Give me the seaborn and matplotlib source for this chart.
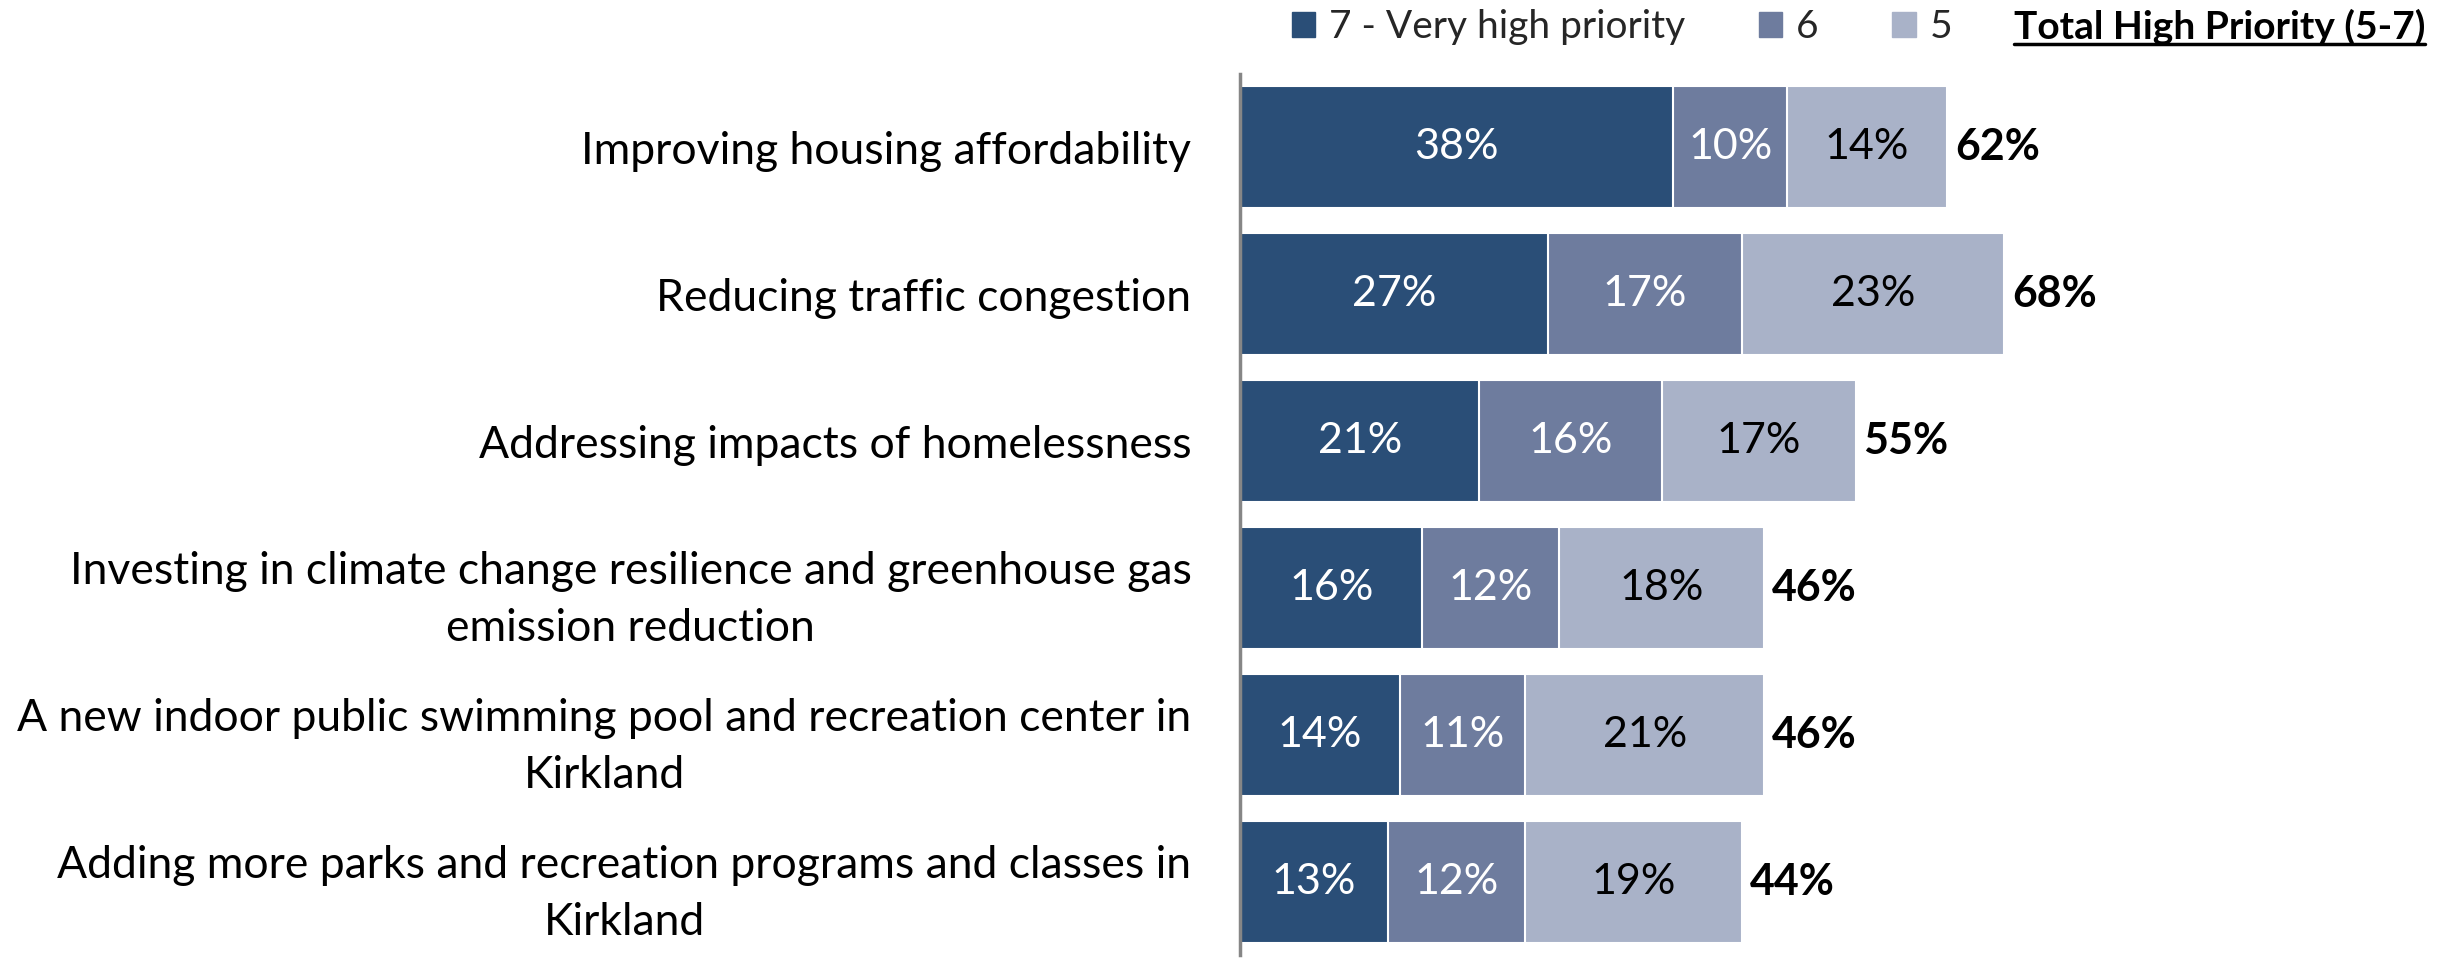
import matplotlib
matplotlib.use("Agg")
import matplotlib.pyplot as plt
import seaborn as sns
import pandas as pd
import numpy as np
from matplotlib.patches import Patch
from matplotlib.lines import Line2D

categories = [
    "Improving housing affordability",
    "Reducing traffic congestion",
    "Addressing impacts of homelessness",
    "Investing in climate change resilience and greenhouse gas\nemission reduction",
    "A new indoor public swimming pool and recreation center in\nKirkland",
    "Adding more parks and recreation programs and classes in\nKirkland",
]
v7 = [38, 27, 21, 16, 14, 13]
v6 = [10, 17, 16, 12, 11, 12]
v5 = [14, 23, 17, 18, 21, 19]
totals = [62, 68, 55, 46, 46, 44]
series_names = ["7 - Very high priority", "6", "5"]
colors = ["#2A4E77", "#6E7C9E", "#A9B2C8"]
total_title = "Total High Priority (5-7)"

sns.set_theme(style="white")
FONT = "Lato"
plt.rcParams["font.family"] = [FONT, "DejaVu Sans"]

c7 = np.array(v7)
c6 = c7 + np.array(v6)
c5 = c6 + np.array(v5)
df = pd.DataFrame({
    "category": categories * 3,
    "value": list(c5) + list(c6) + list(c7),
    "level": ["5"] * 6 + ["6"] * 6 + ["7"] * 6,
})

fig = plt.figure(figsize=(24.53, 9.59), dpi=100)
ax = fig.add_axes([1240 / 2453, 1 - 955 / 959, (2380 - 1240) / 2453, (955 - 74) / 959])

sns.barplot(data=df, x="value", y="category", hue="level", hue_order=["5", "6", "7"],
            palette={"7": colors[0], "6": colors[1], "5": colors[2]},
            dodge=False, width=0.83, edgecolor="white", linewidth=1.5,
            legend=False, ax=ax, orient="h", saturation=1)

ax.set_xlim(0, 100)
ax.set_ylim(5.5, -0.5)
ax.set_xlabel("")
ax.set_ylabel("")
ax.set_xticks([])
for s in ["top", "right", "bottom"]:
    ax.spines[s].set_visible(False)
ax.spines["left"].set_color("#868686")
ax.spines["left"].set_linewidth(2.5)
ax.tick_params(axis="y", which="major", length=0, pad=35, labelsize=32, labelcolor="black")
ax.set_yticks(np.arange(-0.5, 6, 1), minor=True)
ax.tick_params(axis="y", which="minor", length=10, width=2.5, color="#868686", direction="out")
for lab in ax.get_yticklabels():
    lab.set_multialignment("center")
    lab.set_linespacing(1.5)

for i in range(6):
    starts = [0, c7[i], c6[i]]
    vals = [v7[i], v6[i], v5[i]]
    tcols = ["white", "white", "black"]
    for s, v, tc in zip(starts, vals, tcols):
        ax.text(s + v / 2, i, f"{v}%", ha="center", va="center", color=tc, fontsize=31)
    ax.text(c5[i] + 0.7, i, f"{totals[i]}%", ha="left", va="center", color="black",
            fontsize=31, fontweight="bold")

handles = [Patch(facecolor=c, edgecolor=c) for c in colors]
fig.legend(handles, series_names, loc="center left", bbox_to_anchor=(1292 / 2453, 1 - 27 / 959),
           ncol=3, frameon=False, fontsize=28, handlelength=0.6, handleheight=0.6,
           handletextpad=0.35, columnspacing=1.9, borderaxespad=0, borderpad=0)

t = fig.text(2425 / 2453, 1 - 27 / 959, total_title, ha="right", va="center",
             fontsize=28, fontweight="bold", color="black")
fig.canvas.draw()
bb = t.get_window_extent(renderer=fig.canvas.get_renderer())
y_line = (bb.y0 + 1) / fig.bbox.height
fig.add_artist(Line2D([bb.x0 / fig.bbox.width, bb.x1 / fig.bbox.width], [y_line, y_line],
                      transform=fig.transFigure, color="black", linewidth=2.5))

fig.savefig("out.png", dpi=100)
